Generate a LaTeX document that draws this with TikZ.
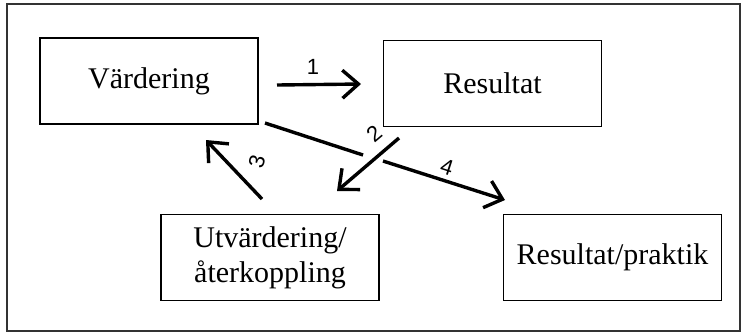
\documentclass[tikz,border=0pt]{standalone}
\usepackage{fontspec}
\setmainfont{Liberation Serif}
\newfontfamily\digitfont{Liberation Sans}
\usetikzlibrary{arrows.meta}

\begin{document}
\begin{tikzpicture}[x=0.5pt,y=-0.5pt,
    box/.style={draw,line width=0.75pt,minimum width=109pt,minimum height=43pt,inner sep=0pt,
        align=center,font=\fontsize{15}{19}\selectfont},
    flow/.style={line width=1.7pt,-{Straight Barb[length=8pt,width=14pt]}},
    num/.style={font=\digitfont\fontsize{11}{12}\selectfont,inner sep=0pt}]
    \useasboundingbox (0,0) rectangle (743,334);
    \draw[line width=1pt,black!80] (7,4) rectangle (740,331);
    % boxes
    \node[box] (vard) at (149,81) {Värdering};
    \node[box] (res) at (492.5,83.5) {Resultat};
    \node[box] (utv) at (270,257.5) {\raisebox{-1.5pt}{Utvärdering/}\\återkoppling};
    \node[box] (prak) at (612.5,257.5) {\raisebox{-2.5pt}{Resultat/praktik}};
    % free ends of the arrows
    \coordinate (a1s) at (277,85);  \coordinate (a1e) at (361,84);
    \coordinate (a2s) at (399,138); \coordinate (a2e) at (337,191);
    \coordinate (a3s) at (262,199); \coordinate (a3e) at (206,140);
    \coordinate (a4s) at (265,123); \coordinate (a4b) at (363,155);
    \coordinate (a4c) at (383,161); \coordinate (a4e) at (505,200);
    % arrows
    \draw[flow] (a1s) -- (a1e);
    \draw[flow] (a2s) -- (a2e);
    \draw[flow] (a3s) -- (a3e);
    \draw[line width=1.7pt] (a4s) -- (a4b);
    \draw[flow] (a4c) -- (a4e);
    % numbers
    \node[num] (n1) at (313,67) {1};
    \node[num,rotate=40] (n2) at (374,134) {2};
    \node[num,rotate=75] (n3) at (257,162) {3};
    \node[num,rotate=-18] (n4) at (447,167) {4};
\end{tikzpicture}
\end{document}
